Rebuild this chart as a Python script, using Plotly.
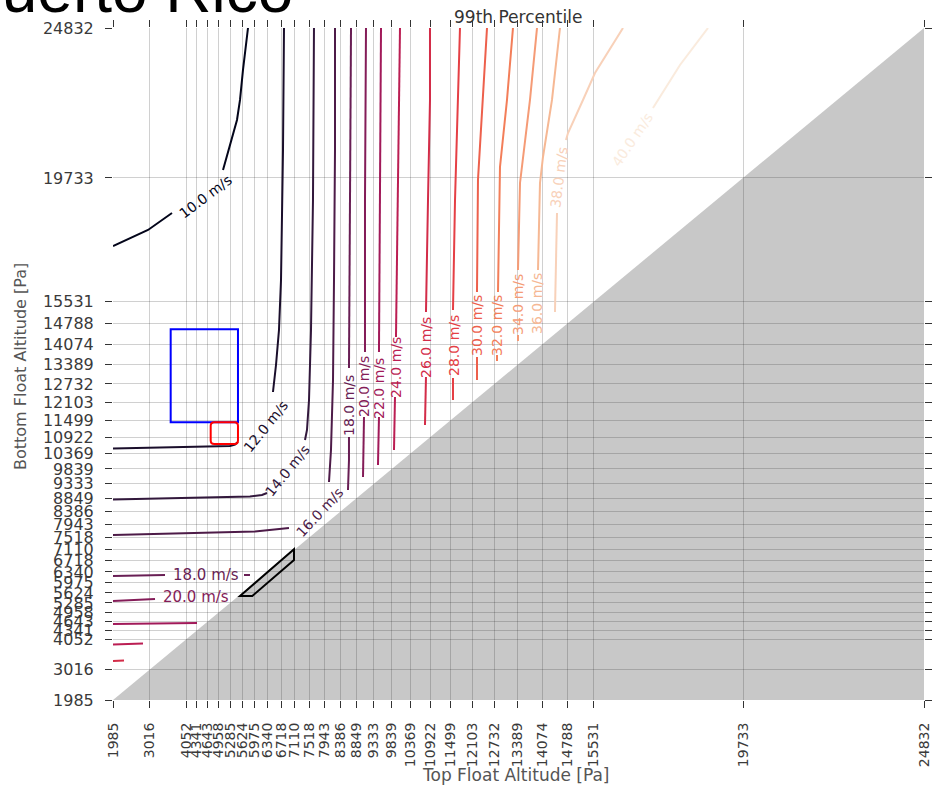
import plotly.graph_objects as go

# Pressure levels used for the ticks on both axes [Pa]
pressure_ticks = [1985, 3016, 4052, 4341, 4643, 4958, 5285, 5624, 5975, 6340,
                  6718, 7110, 7518, 7943, 8386, 8849, 9333, 9839, 10369, 10922,
                  11499, 12103, 12732, 13389, 14074, 14788, 15531, 19733, 24832]
p_min, p_max = 1985, 24832

# Wind-speed contour levels [m/s]
levels = [10, 12, 14, 16, 18, 20, 22, 24, 26, 28, 30, 32, 34, 36, 38, 40]

# Contour paths as (top pressure, bottom pressure) pairs, split where labels sit
c10 = [[(1985, 17421), (2971, 17965), (3647, 18543)],
       [(5084, 20005), (5281, 20855), (5478, 21705), (5563, 22385), (5647, 23405), (5788, 24833)]]
c12 = [[(6802, 24833), (6774, 20685), (6718, 16265), (6661, 14565), (6577, 13375), (6492, 12457)],
       [(1985, 10536), (3591, 10570), (5281, 10621), (5422, 10672), (5506, 10757)]]
c14 = [[(7647, 24833), (7619, 18985), (7563, 14565), (7507, 12185), (7450, 11165), (7394, 10825)],
       [(1985, 8802), (4436, 8853), (5844, 8904), (6182, 8955), (6323, 9023)]]
c16 = [[(8239, 24833), (8239, 20685), (8211, 16265), (8183, 12865), (8126, 10485), (8070, 9397)],
       [(1985, 7595), (3027, 7629), (5985, 7714), (6943, 7833)]]
c18 = [[(8690, 24833), (8661, 18985), (8633, 13273)],
       [(8633, 10927), (8633, 10145), (8605, 9125)],
       [(1985, 6201), (3450, 6235)],
       [(5675, 6235), (5844, 6235)]]
c20 = [[(9112, 24833), (9084, 18985), (9084, 13817)],
       [(9056, 11607), (9028, 9567)],
       [(1985, 5351), (3168, 5419)]]
c22 = [[(9535, 24833), (9507, 18985), (9478, 13817)],
       [(9478, 11607), (9450, 9975)],
       [(1985, 4569), (4351, 4603)]]
c24 = [[(10070, 24833), (10014, 18985), (9986, 16265), (9957, 14327)],
       [(9929, 12287), (9901, 10485)],
       [(1985, 3872), (2830, 3906)]]
c26 = [[(10915, 24833), (10915, 22385), (10859, 18985), (10802, 15177)],
       [(10802, 12967), (10774, 11335)],
       [(1985, 3311), (2295, 3328)]]
c28 = [[(11760, 24833), (11704, 22385), (11620, 18985), (11563, 15245)],
       [(11563, 12933), (11563, 12185)]]
c30 = [[(12521, 24833), (12408, 22385), (12267, 19665), (12239, 15857)],
       [(12239, 13647), (12239, 12865)]]
c32 = [[(13253, 24833), (13084, 22385), (12887, 20107), (12831, 15857)],
       [(12803, 13715), (12803, 13511)]]
c34 = [[(13930, 24833), (13732, 22385), (13451, 19563), (13394, 16605)],
       [(13394, 14395), (13394, 14191)]]
c36 = [[(14577, 24833), (14352, 22385), (14098, 20447), (14014, 19563), (13958, 16605)]]
c38 = [[(16352, 24833), (15563, 23303), (15225, 22385), (14803, 21263), (14746, 21025)],
       [(14493, 18543), (14465, 16945), (14436, 15177)]]
c40 = [[(18747, 24833), (17958, 23575), (17197, 22113)]]

contours = dict(zip(levels, [c10, c12, c14, c16, c18, c20, c22, c24, c26, c28,
                             c30, c32, c34, c36, c38, c40]))

# Inline contour labels: level, top pressure, bottom pressure, text angle
label_spots = [(10, 4577, 19087, -37), (12, 6295, 11301, -51), (14, 6887, 9771, -51),
               (16, 7816, 8377, -47), (18, 8633, 12015, -90), (20, 9056, 12627, -90),
               (22, 9478, 12593, -90), (24, 9957, 13307, -90), (26, 10802, 13987, -90),
               (28, 11591, 14055, -90), (30, 12239, 14735, -90), (32, 12803, 14701, -90),
               (34, 13394, 15449, -90), (36, 13930, 15449, -90), (38, 14549, 19767, -83),
               (40, 16606, 21025, -56), (18, 4605, 6235, 0), (20, 4323, 5487, 0)]

# Highlight boxes: (x0, x1, y0, y1) in pressure units
blue_box = (3610, 5506, 11427, 14589)
red_box = (4737, 5506, 10689, 11427)
# Outlined band along the diagonal
band = [(5563, 5521), (5909, 5521), (7084, 6745), (7084, 7109)]

# Rocket-like sequential palette
rocket = [(0.0, (3, 5, 26)), (1 / 7, (53, 25, 62)), (2 / 7, (112, 31, 87)),
          (3 / 7, (173, 23, 89)), (4 / 7, (225, 51, 66)), (5 / 7, (243, 118, 81)),
          (6 / 7, (246, 180, 143)), (1.0, (250, 235, 221))]


def rocket_color(t):
    for (t0, c0), (t1, c1) in zip(rocket[:-1], rocket[1:]):
        if t <= t1:
            f = (t - t0) / (t1 - t0)
            r, g, b = (round(a + (b_ - a) * f) for a, b_ in zip(c0, c1))
            return f"rgb({r},{g},{b})"
    return "rgb(250,235,221)"


def level_color(lv):
    return rocket_color((lv - levels[0]) / (levels[-1] - levels[0]))


fig = go.Figure()

for lv, segs in contours.items():
    xs, ys = [], []
    for seg in segs:
        xs += [p[0] for p in seg] + [None]
        ys += [p[1] for p in seg] + [None]
    fig.add_trace(go.Scatter(x=xs, y=ys, mode="lines", name=f"{lv:.1f} m/s",
                             line=dict(color=level_color(lv), width=2),
                             hoverinfo="skip", showlegend=False))

annotations = []
for lv, lx, ly, ang in label_spots:
    annotations.append(dict(x=lx, y=ly, xref="x", yref="y", text=f"{lv:.1f} m/s",
                            showarrow=False, textangle=ang,
                            font=dict(family="DejaVu Sans", size=15 if ang == 0 else 14,
                                      color=level_color(lv))))

annotations += [
    dict(x=0.4994, y=0.998, xref="paper", yref="paper", text="99th Percentile",
         showarrow=False, xanchor="center", yanchor="bottom",
         font=dict(family="DejaVu Sans", size=17, color="#333333")),
    dict(x=0.497, y=-0.1116, xref="paper", yref="paper", text="Top Float Altitude [Pa]",
         showarrow=False, xanchor="center", yanchor="middle",
         font=dict(family="DejaVu Sans", size=17, color="#555555")),
    dict(x=-0.1147, y=0.497, xref="paper", yref="paper", text="Bottom Float Altitude [Pa]",
         showarrow=False, xanchor="center", yanchor="middle", textangle=-90,
         font=dict(family="DejaVu Sans", size=16, color="#555555")),
    dict(x=-0.192, y=1.0, xref="paper", yref="paper", text="Puerto Rico",
         showarrow=False, xanchor="left", yanchor="bottom",
         font=dict(family="Liberation Sans", size=64, color="#000000")),
]


def rounded_rect(x0, x1, y0, y1, rx, ry):
    return (f"M {x0 + rx},{y0} L {x1 - rx},{y0} Q {x1},{y0} {x1},{y0 + ry} "
            f"L {x1},{y1 - ry} Q {x1},{y1} {x1 - rx},{y1} L {x0 + rx},{y1} "
            f"Q {x0},{y1} {x0},{y1 - ry} L {x0},{y0 + ry} Q {x0},{y0} {x0 + rx},{y0} Z")


shapes = [
    # region where the top float would sit below the bottom float
    dict(type="path", xref="x", yref="y", layer="below",
         path=f"M {p_min},{p_min} L {p_max},{p_max} L {p_max},{p_min} Z",
         fillcolor="#c8c8c8", line=dict(width=0)),
    dict(type="rect", xref="x", yref="y", x0=blue_box[0], x1=blue_box[1],
         y0=blue_box[2], y1=blue_box[3], line=dict(color="#0000ff", width=2)),
    dict(type="path", xref="x", yref="y", path=rounded_rect(*red_box, 100, 120),
         line=dict(color="#ff0000", width=2)),
    dict(type="path", xref="x", yref="y",
         path="M " + " L ".join(f"{a},{b}" for a, b in band) + " Z",
         line=dict(color="#000000", width=2)),
]

axis_common = dict(range=[p_min, p_max], tickmode="array", tickvals=pressure_ticks,
                   ticktext=[str(v) for v in pressure_ticks], showgrid=True,
                   gridcolor="rgba(40,40,40,0.22)", gridwidth=1, zeroline=False,
                   showline=False, ticks="outside", ticklen=7, tickcolor="#333333",
                   mirror="ticks")

fig.update_layout(
    width=939, height=786,
    margin=dict(l=113, r=15, t=28, b=86, autoexpand=False),
    paper_bgcolor="white", plot_bgcolor="white",
    showlegend=False,
    xaxis=dict(**axis_common, tickangle=-90, ticklabelstandoff=9,
               tickfont=dict(family="DejaVu Sans", size=14, color="#3a3a3a")),
    yaxis=dict(**axis_common, ticklabelstandoff=8,
               tickfont=dict(family="DejaVu Sans", size=16, color="#3a3a3a")),
    annotations=annotations,
    shapes=shapes,
)

fig.write_html("out.html")
